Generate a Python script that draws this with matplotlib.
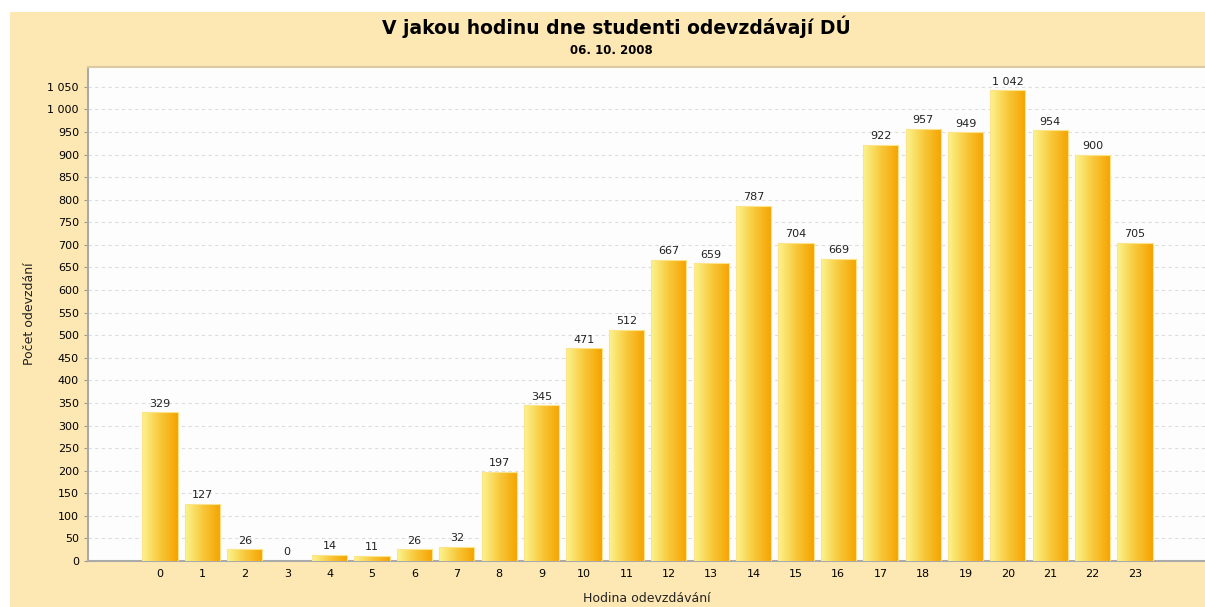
import numpy as np
import matplotlib.pyplot as plt
from matplotlib.colors import LinearSegmentedColormap
from matplotlib.patches import Rectangle

hours = list(range(24))
counts = [329, 127, 26, 0, 14, 11, 26, 32, 197, 345, 471, 512,
          667, 659, 787, 704, 669, 922, 957, 949, 1042, 954, 900, 705]
yticks = list(range(0, 1051, 50))

def fmt(v):
    return f"{v:,}".replace(",", " ")

fig = plt.figure(figsize=(12.05, 6.07), dpi=100)
fig.patch.set_facecolor('white')
# beige chart background
fig.patches.append(Rectangle((10/1205, 0), 1, 1 - 12/607, transform=fig.transFigure,
                             facecolor='#fde8b4', edgecolor='none', zorder=-5))

ax = fig.add_axes([88/1205, (607-561)/607, (1205-88)/1205, (561-67)/607])
ax.set_facecolor('#fdfdfd')

cmap = LinearSegmentedColormap.from_list('bar', ['#fbf48e', '#f8c83a', '#f5a300'])
grad = np.linspace(0, 1, 64).reshape(1, -1)
w = 0.83
for x, v in zip(hours, counts):
    if v > 0:
        im = ax.imshow(grad, cmap=cmap, aspect='auto', extent=(x - w/2, x + w/2, 0, v),
                       zorder=3, interpolation='bilinear')
        r = Rectangle((x - w/2, 0), w, v, facecolor='none', edgecolor='#fde38a', lw=0.8, zorder=4)
        ax.add_patch(r)
        im.set_clip_path(r)
    ax.text(x, v + 8, fmt(v), ha='center', va='bottom', fontsize=8, color='#222222', zorder=5)

ax.set_xlim(-1.7, 24.65)
ax.set_ylim(0, 1094)
ax.set_xticks(hours)
ax.set_xticklabels([str(h) for h in hours], fontsize=8)
ax.set_yticks(yticks)
ax.set_yticklabels([fmt(t) for t in yticks], fontsize=8)
ax.tick_params(axis='x', length=0, pad=6)
ax.tick_params(axis='y', length=3, color='#999999')
ax.yaxis.grid(True, linestyle=(0, (3, 3)), color='#dddddd', lw=0.8)
ax.set_axisbelow(True)
ax.spines['right'].set_visible(False)
ax.spines['top'].set_color('#dccaa2')
ax.spines['top'].set_linewidth(1.5)
ax.spines['left'].set_color('#aaaaaa')
ax.spines['bottom'].set_color('#aaaaaa')
ax.spines['left'].set_linewidth(1.5)
ax.spines['bottom'].set_linewidth(1.5)
ax.set_xlabel('Hodina odevzdávání', fontsize=9, color='#222222', labelpad=9)
ax.set_ylabel('Počet odevzdání', fontsize=9, color='#222222', labelpad=8)

fig.text(616/1205, 1 - 27/607, 'V jakou hodinu dne studenti odevzdávají DÚ', ha='center', va='center',
         fontsize=13.5, fontweight='bold')
fig.text(611/1205, 1 - 51/607, '06. 10. 2008', ha='center', va='center', fontsize=8.5, fontweight='bold')

fig.savefig('out.png', dpi=100, facecolor=fig.get_facecolor())
